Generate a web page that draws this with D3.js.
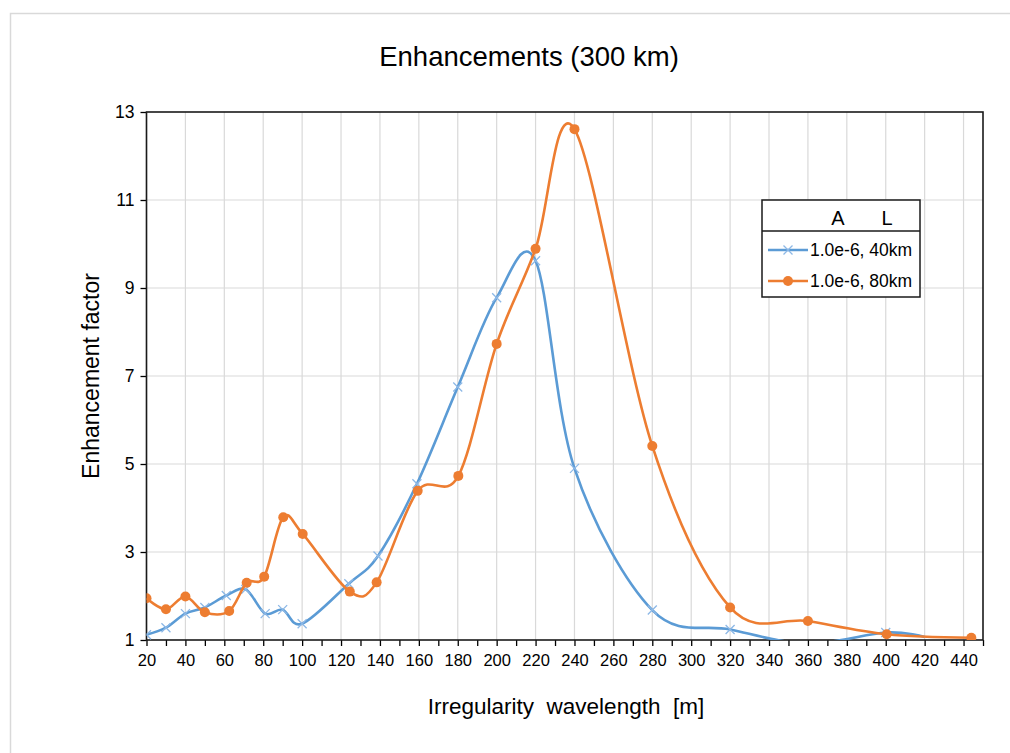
<!DOCTYPE html>
<html><head><meta charset="utf-8">
<script src="https://cdn.jsdelivr.net/npm/d3@7"></script>
<style>body{margin:0;background:#fff}svg text{font-family:"Liberation Sans",Arial,sans-serif}</style>
</head><body>
<svg id="c" width="1010" height="753"></svg>
<script>
// ---- data ----
const titleText = "Enhancements (300 km)";
const xLabel = "Irregularity  wavelength  [m]";
const yLabel = "Enhancement factor";
const seriesNames = ["1.0e-6, 40km", "1.0e-6, 80km"];
const legendHeader = ["A", "L"];
const blueX = [20, 30, 40, 50, 61, 71, 81, 90, 100, 124, 139, 159, 180, 200, 220, 240, 280, 320, 360, 400, 420];
const blueY = [1.12, 1.28, 1.60, 1.74, 2.01, 2.15, 1.60, 1.69, 1.37, 2.28, 2.91, 4.55, 6.75, 8.78, 9.62, 4.90, 1.68, 1.24, 0.92, 1.17, 1.07];
const orangeX = [20, 30, 40, 50, 62.5, 71.5, 80.5, 90.3, 100.3, 124.5, 138.3, 159.4, 180.3, 200, 220, 240, 280, 320, 360, 400.5, 444];
const orangeY = [1.95, 1.70, 1.99, 1.63, 1.66, 2.30, 2.44, 3.79, 3.41, 2.10, 2.31, 4.39, 4.73, 7.73, 9.89, 12.61, 5.41, 1.74, 1.43, 1.13, 1.05];
const xMajorTicks = d3.range(20, 441, 20);
const xMinorTicks = d3.range(20, 451, 10);
const yTicks = [1, 3, 5, 7, 9, 11, 13];

// ---- layout ----
const svg = d3.select("#c");
const L = 146.5, R = 983, T = 112, B = 640;
const x = d3.scaleLinear().domain([20, 450]).range([L, R]);
const y = d3.scaleLinear().domain([1, 13]).range([B, T]);
const blue = "#5b9bd5", orange = "#ed7d31";

// outer border
svg.append("rect").attr("x", 10.5).attr("y", 13.5).attr("width", 1010).attr("height", 760)
  .attr("fill", "none").attr("stroke", "#d9d9d9").attr("stroke-width", 1.5);

// title
svg.append("text").attr("x", 529).attr("y", 66).attr("text-anchor", "middle")
  .attr("font-size", 27.5).attr("fill", "#000").text(titleText);

// gridlines
const g = svg.append("g");
g.selectAll("line.vg").data(xMajorTicks).join("line").attr("class", "vg")
  .attr("x1", d => x(d)).attr("x2", d => x(d)).attr("y1", T).attr("y2", B)
  .attr("stroke", "#d9d9d9").attr("stroke-width", 1.2);
g.selectAll("line.hg").data(yTicks.slice(1, -1)).join("line").attr("class", "hg")
  .attr("x1", L).attr("x2", R).attr("y1", d => y(d)).attr("y2", d => y(d))
  .attr("stroke", "#d9d9d9").attr("stroke-width", 1.2);

// axes
const xAxisMinor = d3.axisBottom(x).tickValues(xMinorTicks).tickSize(6).tickFormat("");
svg.append("g").attr("transform", `translate(0,${B})`).call(xAxisMinor)
  .call(a => a.select(".domain").remove())
  .call(a => a.selectAll("line").attr("stroke", "#000").attr("stroke-width", 1.3));
const xAxis = d3.axisBottom(x).tickValues(xMajorTicks).tickSize(0).tickPadding(14);
svg.append("g").attr("transform", `translate(0,${B})`).call(xAxis)
  .call(a => a.select(".domain").remove())
  .call(a => a.selectAll("text").attr("font-size", 16.5).attr("fill", "#000").attr("font-family", "Liberation Sans, Arial"));
const yAxis = d3.axisLeft(y).tickValues(yTicks).tickSize(6).tickPadding(6);
svg.append("g").attr("transform", `translate(${L},0)`).call(yAxis)
  .call(a => a.select(".domain").remove())
  .call(a => a.selectAll("line").attr("stroke", "#000").attr("stroke-width", 1.3))
  .call(a => a.selectAll("text").attr("font-size", 17.5).attr("fill", "#000").attr("font-family", "Liberation Sans, Arial"));

// frame
svg.append("rect").attr("x", L).attr("y", T).attr("width", R - L).attr("height", B - T)
  .attr("fill", "none").attr("stroke", "#1a1a1a").attr("stroke-width", 1.6);

// axis titles
svg.append("text").attr("x", 566).attr("y", 714).attr("text-anchor", "middle")
  .attr("font-size", 22.5).attr("fill", "#000").style("white-space", "pre").attr("xml:space", "preserve").text(xLabel);
svg.append("text").attr("transform", `translate(99,376) rotate(-90)`).attr("text-anchor", "middle")
  .attr("font-size", 23).attr("fill", "#000").text(yLabel);

// clip
svg.append("clipPath").attr("id", "clip").append("rect")
  .attr("x", L).attr("y", T - 10).attr("width", R - L).attr("height", B - T + 10);

const line = d3.line().x(d => x(d[0])).y(d => y(d[1])).curve(d3.curveCatmullRom.alpha(0));
const blueData = blueX.map((v, i) => [v, blueY[i]]);
const orangeData = orangeX.map((v, i) => [v, orangeY[i]]);

const plot = svg.append("g").attr("clip-path", "url(#clip)");
plot.append("path").datum(blueData).attr("d", line).attr("fill", "none")
  .attr("stroke", blue).attr("stroke-width", 2.6);
const xm = (sel, s) => sel.append("path")
  .attr("d", `M${-s},${-s}L${s},${s}M${-s},${s}L${s},${-s}`);
plot.selectAll("g.bm").data(blueData.filter(d => d[1] >= 1 && d[0] <= 400)).join("g").attr("class", "bm")
  .attr("transform", d => `translate(${x(d[0])},${y(d[1])})`)
  .each(function () { xm(d3.select(this), 4.5); })
  .selectAll("path").attr("stroke", "#8db8e6").attr("stroke-width", 1.3).attr("fill", "none");

plot.append("path").datum(orangeData).attr("d", line).attr("fill", "none")
  .attr("stroke", orange).attr("stroke-width", 2.6);
plot.selectAll("circle.om").data(orangeData).join("circle").attr("class", "om")
  .attr("cx", d => x(d[0])).attr("cy", d => y(d[1])).attr("r", 5).attr("fill", orange);

// legend
const lg = svg.append("g");
lg.append("rect").attr("x", 762).attr("y", 200).attr("width", 158).attr("height", 97)
  .attr("fill", "#fff").attr("stroke", "#1a1a1a").attr("stroke-width", 1.5);
lg.append("line").attr("x1", 762).attr("x2", 920).attr("y1", 231).attr("y2", 231)
  .attr("stroke", "#1a1a1a").attr("stroke-width", 1.5);
lg.append("text").attr("x", 838).attr("y", 225).attr("text-anchor", "middle").attr("font-size", 20).text(legendHeader[0]);
lg.append("text").attr("x", 887).attr("y", 225).attr("text-anchor", "middle").attr("font-size", 20).text(legendHeader[1]);
const rows = [{c: blue, n: seriesNames[0], m: "x", yy: 250}, {c: orange, n: seriesNames[1], m: "o", yy: 281}];
rows.forEach(r => {
  lg.append("line").attr("x1", 768).attr("x2", 808).attr("y1", r.yy).attr("y2", r.yy)
    .attr("stroke", r.c).attr("stroke-width", 2.6);
  if (r.m === "o") lg.append("circle").attr("cx", 788).attr("cy", r.yy).attr("r", 5).attr("fill", r.c);
  else {
    const mg = lg.append("g").attr("transform", `translate(788,${r.yy})`);
    xm(mg, 4.5).attr("stroke", "#8db8e6").attr("stroke-width", 1.3);
  }
  lg.append("text").attr("x", 810).attr("y", r.yy + 6).attr("font-size", 17.5).attr("fill", "#000").text(r.n);
});
</script>
</body></html>
